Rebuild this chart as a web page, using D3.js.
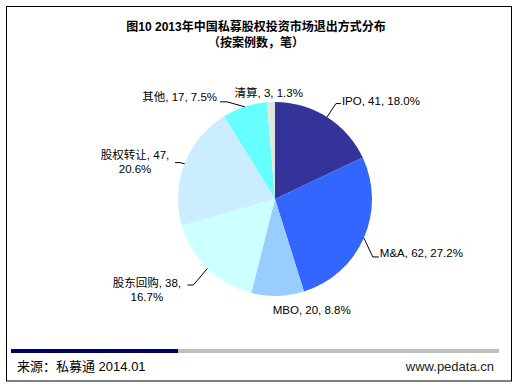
<!DOCTYPE html>
<html><head><meta charset="utf-8">
<script src="https://cdn.jsdelivr.net/npm/d3@7"></script>
<style>html,body{margin:0;padding:0;background:#fff;}svg{display:block;}</style>
</head><body>
<script>
const categories = ["IPO", "M&A", "MBO", "股东回购", "股权转让", "其他", "清算"];
const values = [41, 62, 20, 38, 47, 17, 3];
const percents = ["18.0%", "27.2%", "8.8%", "16.7%", "20.6%", "7.5%", "1.3%"];
const colors = ["#333399", "#3366FF", "#99CCFF", "#CCFFFF", "#CCECFF", "#66FFFF", "#E4E4DE"];
const titleLines = ["图10 2013年中国私募股权投资市场退出方式分布", "（按案例数，笔）"];
const sourceText = "来源：私募通 2014.01";
const siteText = "www.pedata.cn";

// label layout relative to slice outer-edge midpoint (positions, not data)
const labelLayout = [
  {line: [[9, -13.5], [14, -13.5]], text: [15, -12], anchor: "start", split: false},
  {line: [[9, 19], [15, 19]], text: [16, 19], anchor: "start", split: false},
  {line: null, text: [34, 18], anchor: "middle", split: false},
  {line: [[-14, 16.5], [-20, 16.5]], text: [-60.5, 18.2], anchor: "middle", split: true},
  {line: [[-4.6, -1.1], [-9.6, -1.1]], text: [-49.6, -4.8], anchor: "middle", split: true},
  {line: [[-17.7, -5], [-24.7, -5]], text: [-27.7, -5.5], anchor: "end", split: false},
  {line: null, text: [-2.3, -5.3], anchor: "middle", split: false}
];

const W = 519, H = 387;
const svg = d3.select("body").append("svg").attr("width", W).attr("height", H);
const font = "'Liberation Sans', Arial, 'Noto Sans CJK SC', sans-serif";

svg.append("rect").attr("x", 6.5).attr("y", 6.5).attr("width", 505).attr("height", 374.5)
  .attr("fill", "#fff").attr("stroke", "#000").attr("stroke-width", 1);

svg.selectAll("text.title").data(titleLines).enter().append("text")
  .attr("x", 256).attr("y", (d, i) => 31 + i * 16)
  .attr("text-anchor", "middle").attr("font-family", font)
  .attr("font-weight", "bold").attr("font-size", 12).attr("fill", "#000").text(d => d);

const cx = 275, cy = 199, r = 97;
const g = svg.append("g").attr("transform", `translate(${cx},${cy})`);
const pie = d3.pie().sort(null).value(d => d)(values);
const arc = d3.arc().innerRadius(0).outerRadius(r);
g.selectAll("path").data(pie).enter().append("path")
  .attr("d", arc).attr("fill", (d, i) => colors[i]);

pie.forEach((d, i) => {
  const a = (d.startAngle + d.endAngle) / 2;
  const px = r * Math.sin(a), py = -r * Math.cos(a);
  const L = labelLayout[i];
  if (L.line) {
    const pts = [[px, py]].concat(L.line.map(o => [px + o[0], py + o[1]]));
    g.append("path").attr("d", d3.line()(pts)).attr("fill", "none")
      .attr("stroke", "#000").attr("stroke-width", 1);
  }
  const tx = px + L.text[0], ty = py + L.text[1];
  const lines = L.split ? [`${categories[i]}, ${values[i]},`, percents[i]]
                        : [`${categories[i]}, ${values[i]}, ${percents[i]}`];
  lines.forEach((s, j) => {
    g.append("text").attr("x", tx).attr("y", ty + j * 14.5)
      .attr("text-anchor", L.anchor).attr("font-family", font)
      .attr("font-size", 11.5).attr("fill", "#000").text(s);
  });
});

svg.append("rect").attr("x", 11).attr("y", 349).attr("width", 488).attr("height", 4).attr("fill", "#BFBFBF");
svg.append("rect").attr("x", 11).attr("y", 349).attr("width", 167).attr("height", 4).attr("fill", "#000066");
svg.append("text").attr("x", 17).attr("y", 371).attr("font-family", font)
  .attr("font-size", 13).attr("fill", "#000").text(sourceText);
svg.append("text").attr("x", 494).attr("y", 371).attr("text-anchor", "end").attr("font-family", font)
  .attr("font-size", 13).attr("fill", "#222").text(siteText);
</script>
</body></html>
